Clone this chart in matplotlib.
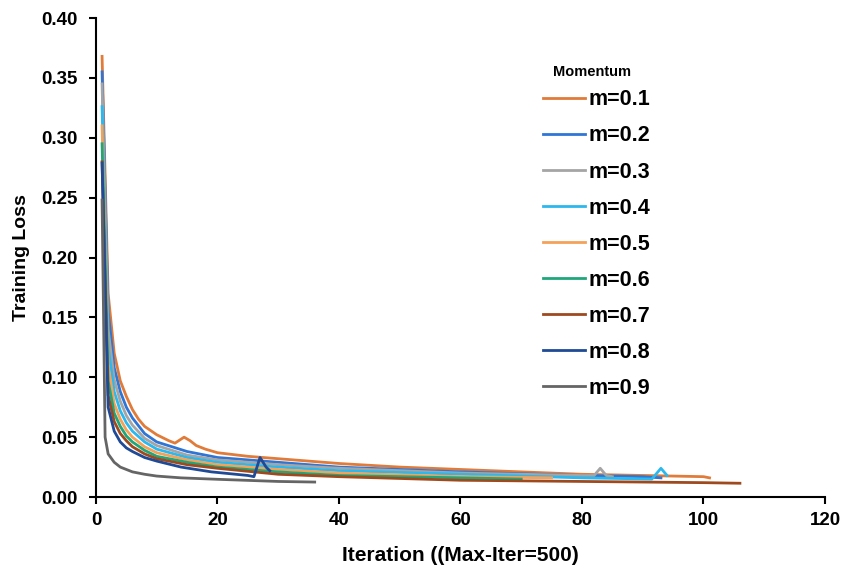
import matplotlib
matplotlib.use("Agg")
import matplotlib.pyplot as plt

plt.rcParams['font.family'] = ['Liberation Sans', 'DejaVu Sans']

labels = ["m=0.1", "m=0.2", "m=0.3", "m=0.4", "m=0.5", "m=0.6", "m=0.7", "m=0.8", "m=0.9"]
colors = ["#E07B3A", "#2E75D6", "#A5A5A5", "#2BB8EE", "#F4A25A", "#1FA67A", "#9E4A1E", "#1F4A96", "#656565"]
legend_title = "Momentum"

x01 = [1, 2, 3, 4, 5, 6, 7, 8, 10, 12, 13, 14.5, 15.5, 16.5, 18, 20, 25, 30, 40, 50, 60, 70, 80, 90, 100, 101]
y01 = [0.368, 0.17, 0.12, 0.097, 0.084, 0.073, 0.065, 0.059, 0.052, 0.047, 0.045, 0.050, 0.047, 0.043, 0.040, 0.037, 0.034, 0.032, 0.028, 0.025, 0.023, 0.021, 0.019, 0.018, 0.017, 0.016]

x02 = [1, 2, 3, 4, 5, 6, 8, 10, 15, 20, 30, 40, 60, 80, 90, 93]
y02 = [0.355, 0.155, 0.108, 0.088, 0.075, 0.066, 0.053, 0.046, 0.038, 0.033, 0.029, 0.025, 0.021, 0.018, 0.017, 0.016]

x03 = [1, 2, 3, 4, 5, 6, 8, 10, 15, 20, 30, 40, 60, 80, 82, 83, 84, 85]
y03 = [0.345, 0.14, 0.098, 0.08, 0.068, 0.060, 0.049, 0.043, 0.035, 0.031, 0.027, 0.024, 0.020, 0.018, 0.018, 0.024, 0.018, 0.017]

x04 = [1, 2, 3, 4, 5, 6, 8, 10, 15, 20, 30, 40, 60, 80, 91.5, 93, 94]
y04 = [0.326, 0.125, 0.088, 0.072, 0.062, 0.055, 0.046, 0.040, 0.033, 0.029, 0.025, 0.022, 0.019, 0.016, 0.015, 0.024, 0.018]

x05 = [1, 2, 3, 4, 5, 6, 8, 10, 15, 20, 30, 40, 60, 75]
y05 = [0.31, 0.11, 0.078, 0.065, 0.056, 0.050, 0.042, 0.037, 0.031, 0.027, 0.023, 0.020, 0.017, 0.016]

x06 = [1, 2, 3, 4, 5, 6, 8, 10, 15, 20, 30, 40, 60, 70]
y06 = [0.295, 0.097, 0.07, 0.059, 0.051, 0.046, 0.039, 0.034, 0.029, 0.025, 0.021, 0.018, 0.016, 0.015]

x07 = [1, 2, 3, 4, 5, 6, 8, 10, 15, 20, 30, 40, 60, 80, 100, 106]
y07 = [0.28, 0.085, 0.063, 0.053, 0.047, 0.042, 0.036, 0.032, 0.027, 0.024, 0.019, 0.017, 0.014, 0.013, 0.012, 0.0115]

x08 = [1, 2, 3, 4, 5, 6, 8, 10, 14, 19, 25, 26, 27, 28, 28.6]
y08 = [0.279, 0.075, 0.055, 0.046, 0.041, 0.038, 0.033, 0.030, 0.025, 0.021, 0.018, 0.017, 0.033, 0.025, 0.022]

x09 = [1, 1.5, 2, 3, 4, 5, 6, 8, 10, 14, 20, 30, 36]
y09 = [0.248, 0.05, 0.036, 0.029, 0.025, 0.023, 0.021, 0.019, 0.0175, 0.016, 0.0148, 0.013, 0.0125]

xs = [x01, x02, x03, x04, x05, x06, x07, x08, x09]
ys = [y01, y02, y03, y04, y05, y06, y07, y08, y09]

xticks = [0, 20, 40, 60, 80, 100, 120]
yticks = [0.00, 0.05, 0.10, 0.15, 0.20, 0.25, 0.30, 0.35, 0.40]

fig = plt.figure(figsize=(8.45, 5.69), dpi=100)
ax = fig.add_axes([0.1136, 0.1265, 0.8627, 0.8418])

for x, y, c, lab in zip(xs, ys, colors, labels):
    ax.plot(x, y, color=c, lw=2, label=lab)

ax.set_xlim(0, 120)
ax.set_ylim(0, 0.40)
ax.set_xticks(xticks)
ax.set_yticks(yticks)
ax.set_xticklabels([str(v) for v in xticks], fontsize=13.5, fontweight='bold')
ax.set_yticklabels([f"{v:.2f}" for v in yticks], fontsize=13.5, fontweight='bold')
for s in ['top', 'right']:
    ax.spines[s].set_visible(False)
for s in ['left', 'bottom']:
    ax.spines[s].set_linewidth(1.5)
    ax.spines[s].set_color('black')
ax.tick_params(axis='both', direction='out', length=5, width=1.5, colors='black')
ax.tick_params(axis='y', pad=8)
ax.tick_params(axis='x', pad=6)
ax.set_xlabel("Iteration ((Max-Iter=500)", fontsize=15, fontweight='bold', labelpad=12)
ax.set_ylabel("Training Loss", fontsize=14, fontweight='bold', labelpad=8)

leg = ax.legend(loc='upper left', bbox_to_anchor=(0.586, 0.8915), frameon=False,
                handlelength=1.95, handletextpad=0.2, labelspacing=0.7,
                prop={'size': 15.5, 'weight': 'bold'})
fig.text(553 / 845, 1 - 72 / 569, legend_title, fontsize=10.5, fontweight='bold',
         ha='left', va='center')

fig.savefig("out.png", dpi=100)
